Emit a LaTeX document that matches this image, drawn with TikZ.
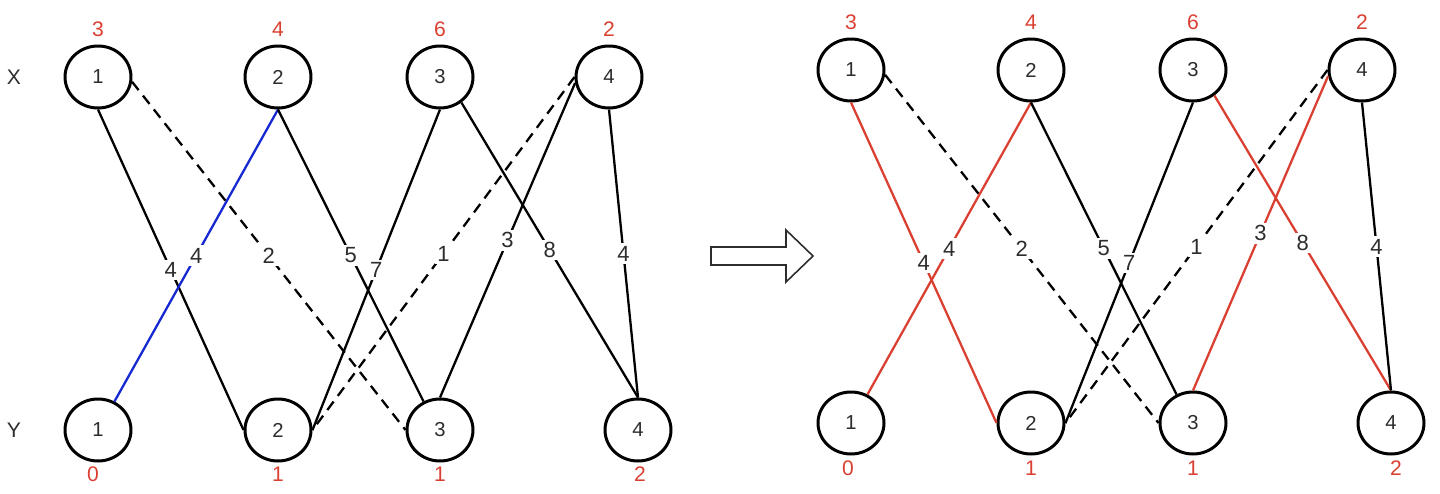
\documentclass[tikz,border=0pt]{standalone}
\usepackage{fontspec}
\setmainfont{Liberation Sans}
\usetikzlibrary{shapes.geometric}
\definecolor{mred}{RGB}{218,64,50}
\definecolor{mblue}{RGB}{22,40,210}
\definecolor{txt}{RGB}{45,45,45}
\tikzset{
  vtx/.style={ellipse,draw=black,line width=1.7pt,minimum width=1.32cm,minimum height=1.24cm,inner sep=0pt,fill=white,font=\fontsize{11.5}{13}\selectfont,text=txt},
  val/.style={font=\fontsize{12}{14}\selectfont,text=mred,inner sep=1pt},
  side/.style={font=\fontsize{12}{14}\selectfont,text=txt,inner sep=1pt},
  ed/.style={line width=1.3pt},
  dsh/.style={ed,dash pattern=on 6pt off 4pt},
  wt/.style={midway,fill=white,inner sep=1.5pt,font=\fontsize{12.5}{14}\selectfont,text=txt},
}
\begin{document}
\begin{tikzpicture}
 \useasboundingbox (0,0) rectangle (28.8,9.86);
 \node[side] (xs) at (0.28,8.32) {X};
 \node[side] (ys) at (0.28,1.26) {Y};
 % left graph
 \foreach \i/\x/\t in {1/1.96/3,2/5.56/4,3/8.80/6,4/12.18/2} {
  \node[vtx] (lx\i) at (\x,8.32) {\i};
  \node[val] (lxv\i) at (\x,9.28) {\t};
 }
 \foreach \i/\x/\t/\u in {1/1.96/0/1.86,2/5.56/1/5.56,3/8.80/1/8.80,4/12.76/2/12.80} {
  \node[vtx] (ly\i) at (\x,1.26) {\i};
  \node[val] (lyv\i) at (\u,0.38) {\t};
 }
 \draw[ed] (lx1.south) -- node[wt]{4} (ly2.west);
 \draw[ed,mblue] (lx2.south) -- node[wt]{4} (ly1.60);
 \draw[dsh] (lx1.-8) -- node[wt]{2} (ly3.west);
 \draw[ed] (lx2.south) -- node[wt]{5} (ly3.120);
 \draw[ed] (lx3.south) -- node[wt]{7} (ly2.east);
 \draw[ed] (lx3.-50) -- node[wt]{8} (ly4.north);
 \draw[dsh] (lx4.west) -- node[wt]{1} (ly2.east);
 \draw[ed] (lx4.190) -- node[wt]{3} (ly3.north);
 \draw[ed] (lx4.south) -- node[wt]{4} (ly4.north);
 % block arrow
 \draw[line width=0.9pt,draw=txt,fill=white] (14.22,4.92) -- (15.72,4.92) -- (15.72,5.26) -- (16.26,4.74)
   -- (15.72,4.22) -- (15.72,4.56) -- (14.22,4.56) -- cycle;
 % right graph
 \foreach \i/\x/\t in {1/17.02/3,2/20.62/4,3/23.86/6,4/27.24/2} {
  \node[vtx] (rx\i) at (\x,8.46) {\i};
  \node[val] (rxv\i) at (\x,9.42) {\t};
 }
 \foreach \i/\x/\t/\u in {1/17.02/0/16.96,2/20.62/1/20.62,3/23.86/1/23.86,4/27.82/2/27.92} {
  \node[vtx] (ry\i) at (\x,1.40) {\i};
  \node[val] (ryv\i) at (\u,0.50) {\t};
 }
 \draw[ed,mred] (rx1.south) -- node[wt]{4} (ry2.west);
 \draw[ed,mred] (rx2.south) -- node[wt]{4} (ry1.60);
 \draw[dsh] (rx1.-8) -- node[wt]{2} (ry3.west);
 \draw[ed] (rx2.south) -- node[wt]{5} (ry3.120);
 \draw[ed] (rx3.south) -- node[wt]{7} (ry2.east);
 \draw[ed,mred] (rx3.-50) -- node[wt]{8} (ry4.north);
 \draw[dsh] (rx4.west) -- node[wt]{1} (ry2.east);
 \draw[ed,mred] (rx4.190) -- node[wt]{3} (ry3.north);
 \draw[ed] (rx4.south) -- node[wt]{4} (ry4.north);
\end{tikzpicture}
\end{document}
